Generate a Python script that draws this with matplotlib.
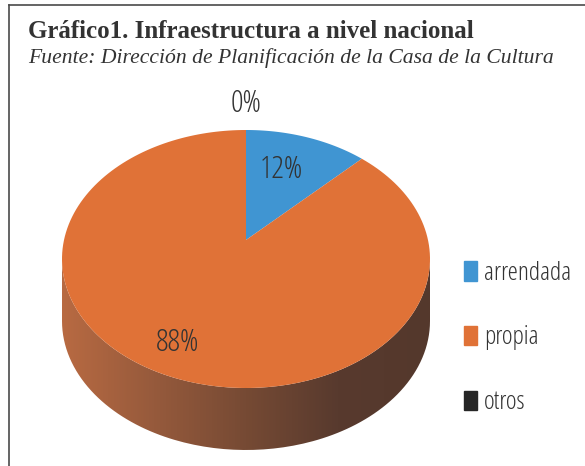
import numpy as np
import matplotlib
matplotlib.use('Agg')
import matplotlib.pyplot as plt
from matplotlib.patches import Patch, PathPatch
from matplotlib.path import Path

labels = ['arrendada', 'propia', 'otros']
values = [12, 88, 0]
pct_labels = ['12%', '88%', '0%']
colors = ['#4095d2', '#e07237', '#262626']

W, H = 585, 466
cx, cy = 246, 259      # centre of top ellipse
rx, ry = 184, 129
apex_y = 240           # tilted view puts the apex above the centre
depth = 62


def arc(t0, t1, n=100, dy=0):
    # angles clockwise from top, degrees, slightly warped for the tilt
    t = np.radians(np.linspace(t0, t1, n))
    t = t - np.radians(4.2) * np.sin(2 * t)
    return np.column_stack([cx + rx * np.sin(t), cy + dy - ry * np.cos(t)])


fig = plt.figure(figsize=(W / 100, H / 100), dpi=100)
ax = fig.add_axes([0, 0, 1, 1])
ax.set_xlim(0, W)
ax.set_ylim(H, 0)
ax.axis('off')

# frame
ax.plot([9, 9], [H, 5], color='#4a4a4a', lw=1.2)
ax.plot([9, W], [5, 5], color='#4a4a4a', lw=1.2)

ax.text(28, 31, 'Gráfico1. Infraestructura a nivel nacional', family='Liberation Serif',
        weight='bold', fontsize=18, color='#333333', va='center')
ax.text(28, 58, 'Fuente: Dirección de Planificación de la Casa de la Cultura', family='Liberation Serif',
        style='italic', fontsize=15.6, color='#333333', va='center')

# side of the cylinder, with gradient
front = arc(90, 270)
back = arc(270, 90, dy=depth)
side = PathPatch(Path(np.vstack([front, back, front[:1]])), fc='none', ec='none')
ax.add_patch(side)
stops = np.array([[184, 106, 66], [150, 90, 60], [118, 74, 52], [88, 58, 46], [84, 56, 44]])
xs = np.linspace(0, 1, 256)
grad = np.stack([np.interp(xs, np.linspace(0, 1, len(stops)), stops[:, i]) for i in range(3)], axis=-1)[None] / 255
im = ax.imshow(grad, extent=[cx - rx, cx + rx, cy + depth + ry, cy], aspect='auto', zorder=1)
im.set_clip_path(side)
ax.set_xlim(0, W)
ax.set_ylim(H, 0)

# top of the pie, from the values
start = 0
total = sum(values)
for val, col in zip(values, colors):
    sweep = 360 * val / total
    if val > 0:
        pts = np.vstack([[cx, apex_y], arc(start, start + sweep, 200)])
        ax.fill(pts[:, 0], pts[:, 1], color=col, lw=0, zorder=2)
    start += sweep

txt = dict(family='Open Sans', stretch='condensed', color='#333333', ha='center', va='center', zorder=3)
ax.text(281, 170, pct_labels[0], fontsize=22.5, **txt)
ax.text(178, 343, pct_labels[1], fontsize=22.5, **txt)
ax.text(246, 104, pct_labels[2], fontsize=22.5, **txt)

handles = [Patch(color=c) for c in colors]
ax.legend(handles, labels, loc='center left', bbox_to_anchor=(464 / W, 1 - 338 / H), frameon=False,
          prop={'family': 'Open Sans', 'stretch': 'condensed', 'size': 18.5}, labelcolor='#333333',
          handlelength=0.52, handleheight=0.8, handletextpad=0.25, labelspacing=1.55, borderpad=0, borderaxespad=0)

fig.savefig('out.png', dpi=100)
